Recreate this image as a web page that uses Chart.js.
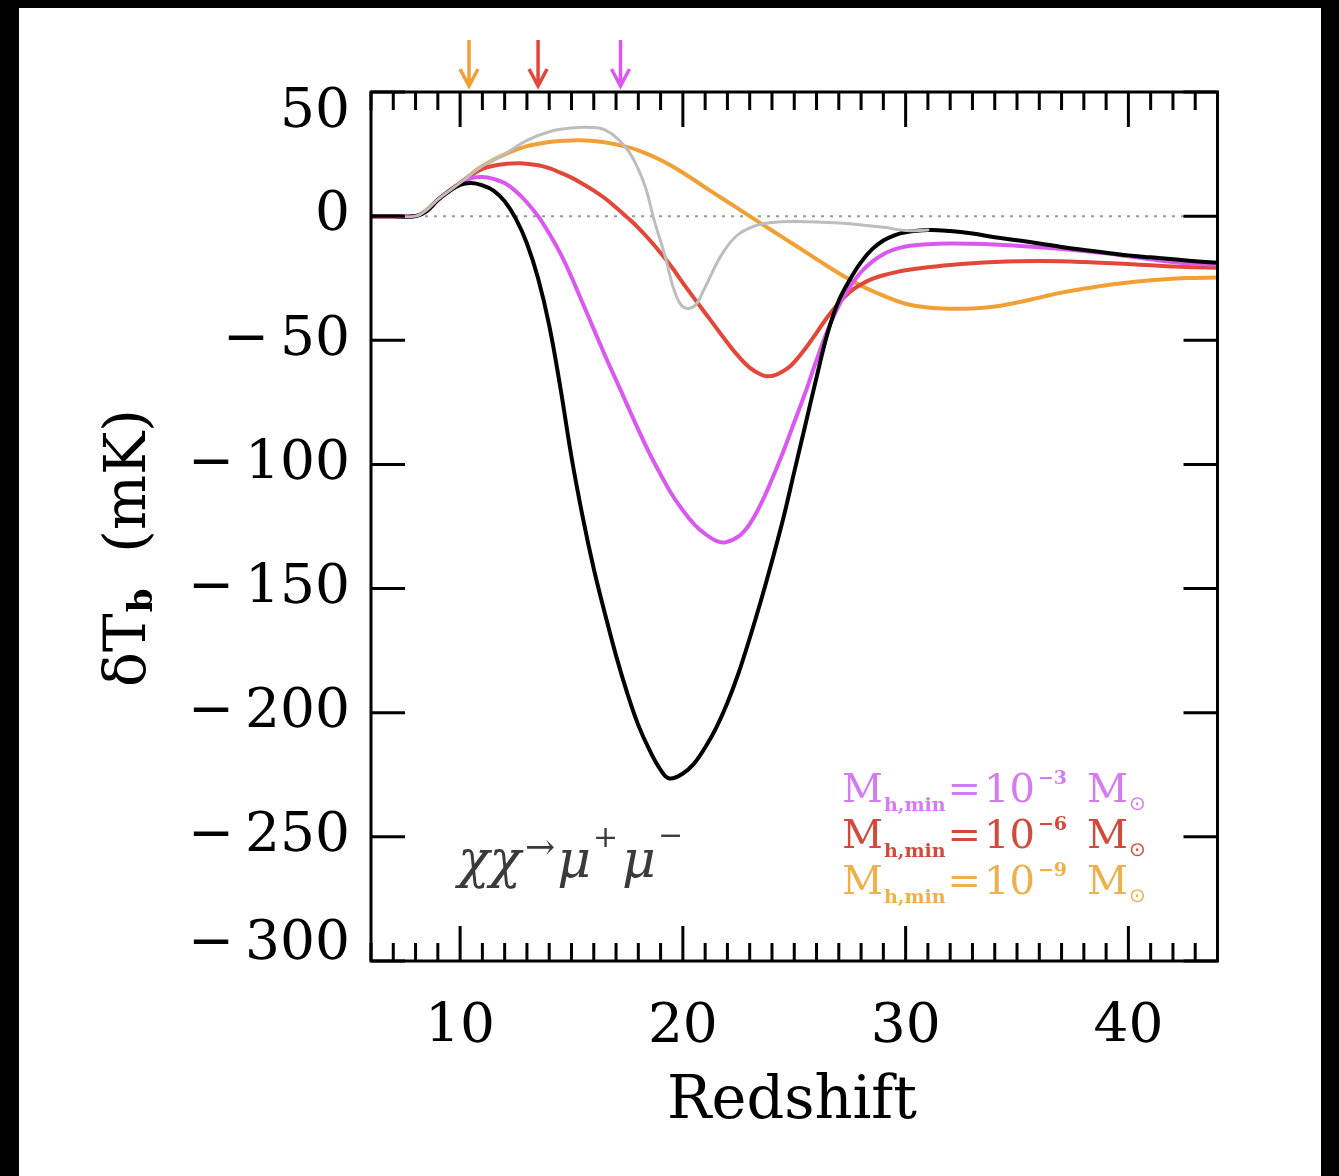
<!DOCTYPE html>
<html><head><meta charset="utf-8">
<script src="https://cdn.jsdelivr.net/npm/chart.js@4.4.0/dist/chart.umd.min.js"></script>
<style>
html,body{margin:0;padding:0;background:#000;width:1339px;height:1176px;overflow:hidden}
#wrap{position:absolute;left:19px;top:8px;width:1302px;height:1168px;background:#fff}
canvas{display:block}
</style></head><body><div id="wrap"><canvas id="c" width="1302" height="1168"></canvas></div>
<script>
// ---- data (redshift z, brightness temperature dTb in mK) ----
const zBlack = [6,7,8,8.5,9,9.5,10,10.5,11,11.5,12,12.5,13,13.5,14,14.5,15,15.5,16,16.5,17,17.5,18,18.5,19,19.4,20,20.5,21,21.5,22,22.5,23,23.5,24,24.5,25,25.5,26,26.5,27,27.5,28,28.5,29,29.5,30,31,32,33,34,35,36,37,38,39,40,41,42,43,44];
const tBlack = [0,0,0,2,6.5,10,12.6,13.3,12.4,10.3,6,-1,-11,-25,-44,-69,-97,-121,-142,-160,-177,-192,-205,-215,-223,-226.5,-224.5,-220.5,-214,-206,-196,-184,-170,-155,-139,-122,-103,-84,-65,-47,-34,-25.5,-18.5,-13.3,-9.8,-7.7,-6.5,-5.6,-6,-7,-8.5,-9.7,-11,-12.4,-13.6,-14.7,-15.8,-16.6,-17.4,-18.2,-18.8];

const zMag = [6,7,8,8.5,9,9.5,10,10.5,11,11.5,12,12.5,13,13.5,14,14.5,15,15.5,16,16.5,17,17.5,18,18.5,19,19.5,20,20.5,21,21.5,21.9,22.5,23,23.5,24,24.5,25,25.5,26,26.5,27,27.5,28,28.5,29,29.5,30,31,32,33,34,35,36,37,38,39,40,41,42,43,44];
const tMag = [0,0,0,2,6.5,10,13,15.3,15.8,15,13.3,10,5.5,0,-7,-15,-24.5,-35,-45.5,-56,-66,-76,-86,-95.5,-104,-112,-118.5,-124,-128,-130.8,-131.4,-129,-124,-116,-106,-95,-83,-71,-58,-46,-36,-28.5,-22.5,-18.3,-15.3,-13.4,-12.2,-11.3,-11,-11.1,-11.4,-11.9,-12.5,-13.2,-14,-15,-16.2,-17.4,-18.5,-19.2,-19.6];

const zRed = [6,7,8,8.5,9,9.5,10,10.5,11,11.5,12,12.7,13.5,14,14.5,15,15.5,16,16.5,17,17.5,18,18.5,19,19.5,20,20.5,21,21.5,22,22.5,23,23.5,23.8,24.2,24.7,25,25.5,26,26.5,27,27.5,28,28.5,29,29.5,30,31,32,33,34,35,36,37,38,39,40,41,42,43,44];
const tRed = [0,0,0,2,6.6,10.2,13.3,16.5,19,20.3,21,21.3,20.5,19.3,17.5,15.5,13,10.3,7.2,3.5,-0.5,-4.7,-9.5,-14.8,-20.5,-26.9,-33,-39,-45,-51,-56.5,-61,-63.8,-64.5,-63.8,-61.3,-58.8,-53.3,-47,-40.5,-35,-30.5,-27.5,-25.3,-23.8,-22.7,-21.8,-20.6,-19.7,-19,-18.5,-18.2,-18.1,-18.2,-18.5,-18.9,-19.3,-19.8,-20.3,-20.6,-20.8];

const zOrange = [6,7,8,8.5,9,10,11,12,13,14,15,16,17,18,19,20,21,22,23,24,25,26,27,28,29,30,31,32,33,34,35,36,37,38,39,40,41,42,43,44];
const tOrange = [0,0,0,2.5,6.7,13.4,20.2,24.9,28.2,29.9,30.5,30.3,28.9,26.5,22.6,17.5,11.6,5.8,0,-5.8,-11.5,-17.3,-23,-28,-32,-35.3,-36.8,-37.3,-37.2,-36.4,-34.8,-32.8,-30.8,-29.2,-27.8,-26.7,-25.8,-25.2,-24.9,-24.7];

const zGray = [6,7,8,8.5,9,10,11,12,13,14,15,15.9,16.5,17.1,17.7,18.3,18.7,19.2,19.6,20,20.5,20.95,21.7,22.4,23.2,23.9,25,27,29,30,31];
const tGray = [0,0,0,2.5,6.7,13.4,20.2,25,30.5,34,35.5,35.7,34.7,30.9,24.2,12.1,-1.3,-16.1,-29.5,-36.5,-36.3,-29.5,-16.1,-8,-4,-2.7,-2.2,-2.8,-4.5,-5.8,-5.6];

const xTicksMajor = [10,20,30,40];
const yTicksMajor = [50,0,-50,-100,-150,-200,-250,-300];
const arrowZ = [10.4,13.5,17.2];
const legendExps = ['\u22123','\u22126','\u22129'];

const C_BLACK='#000000', C_MAG='#DA58F0', C_RED='#E2473A', C_ORANGE='#F0A035', C_GRAY='#BDBDBD';
const arrowColors=[C_ORANGE,C_RED,C_MAG];
const legendColors=['#D47BF0','#D24A3A','#EDB04A'];

const SERIF='"DejaVu Serif", "Liberation Serif", serif';

function ds(z,t,color,w){
  return {data:z.map((v,i)=>({x:v,y:t[i]})),borderColor:color,borderWidth:w,pointRadius:0,
    tension:0.4,fill:false,borderCapStyle:'round',borderJoinStyle:'round'};
}

const decor = {
  id:'decor',
  beforeDatasetsDraw(chart){
    const {ctx, chartArea:a, scales:{y}} = chart;
    ctx.save();
    ctx.strokeStyle='#999'; ctx.lineWidth=2; ctx.setLineDash([3,6]);
    const y0=y.getPixelForValue(0);
    ctx.beginPath(); ctx.moveTo(a.left,y0); ctx.lineTo(a.right,y0); ctx.stroke();
    ctx.restore();
  },
  afterDatasetsDraw(chart){
    const {ctx, chartArea:a, scales:{x,y}} = chart;
    ctx.save();
    ctx.strokeStyle='#000'; ctx.lineWidth=3; ctx.setLineDash([]);
    ctx.strokeRect(a.left,a.top,a.right-a.left,a.bottom-a.top);
    ctx.beginPath();
    for(let v=Math.ceil(x.min); v<=x.max; v++){
      const px=x.getPixelForValue(v);
      const L = xTicksMajor.includes(v)?35:18;
      ctx.moveTo(px,a.bottom); ctx.lineTo(px,a.bottom-L);
      ctx.moveTo(px,a.top); ctx.lineTo(px,a.top+L);
    }
    yTicksMajor.forEach(v=>{
      const py=y.getPixelForValue(v);
      ctx.moveTo(a.left,py); ctx.lineTo(a.left+34,py);
      ctx.moveTo(a.right,py); ctx.lineTo(a.right-34,py);
    });
    ctx.stroke();

    // tick labels
    ctx.fillStyle='#000';
    ctx.font='55px '+SERIF; ctx.textAlign='center'; ctx.textBaseline='middle';
    xTicksMajor.forEach(v=>ctx.fillText(String(v), x.getPixelForValue(v), 1020));
    ctx.textAlign='right';
    yTicksMajor.forEach(v=>{
      let py=y.getPixelForValue(v);
      py=Math.min(Math.max(py,a.top+21),a.bottom-16);
      const s = v<0 ? '\u2212\u2009'+Math.abs(v) : String(v);
      ctx.fillText(s, 331, py);
    });

    // x title
    ctx.textAlign='center';
    ctx.font='59px '+SERIF;
    ctx.fillText('Redshift', 773, 1095);

    // y title rotated
    ctx.save();
    ctx.translate(111, 540); ctx.rotate(-Math.PI/2);
    ctx.textAlign='left'; ctx.textBaseline='middle';
    const f1='58px '+SERIF, f2='bold 34px '+SERIF;
    ctx.font=f1; const w1=ctx.measureText('\u03b4T').width;
    ctx.font=f2; const w2=ctx.measureText('b').width;
    ctx.font=f1; const w3=ctx.measureText('  (mK)').width;
    let sx=-(w1+w2+w3)/2;
    ctx.font=f1; ctx.fillText('\u03b4T',sx,0); sx+=w1;
    ctx.font=f2; ctx.fillText('b',sx+1,13); sx+=w2;
    ctx.font=f1; ctx.fillText('  (mK)',sx,0);
    ctx.restore();

    // arrows
    ctx.lineWidth=3.5; ctx.lineCap='butt'; ctx.lineJoin='miter';
    arrowZ.forEach((z,i)=>{
      const px=x.getPixelForValue(z);
      ctx.strokeStyle=arrowColors[i];
      ctx.beginPath();
      ctx.moveTo(px,32); ctx.lineTo(px,78);
      ctx.moveTo(px-9,61); ctx.lineTo(px,78); ctx.lineTo(px+9,61);
      ctx.stroke();
    });

    // legend text
    ctx.textAlign='left'; ctx.textBaseline='alphabetic';
    const baselines=[794,840,886];
    legendExps.forEach((e,i)=>{
      ctx.fillStyle=legendColors[i];
      let cx=823; const by=baselines[i];
      ctx.font='40px '+SERIF; ctx.fillText('M',cx,by); cx+=ctx.measureText('M').width+1;
      ctx.font='bold 19px '+SERIF; ctx.fillText('h,min',cx,by+9); cx+=ctx.measureText('h,min').width+2;
      ctx.font='40px '+SERIF; ctx.fillText('=',cx,by); cx+=ctx.measureText('=').width+3;
      ctx.fillText('10',cx,by); cx+=ctx.measureText('10').width+3;
      ctx.font='bold 19px '+SERIF; ctx.fillText(e,cx,by-18); cx+=ctx.measureText(e).width+20;
      ctx.font='40px '+SERIF; ctx.fillText('M',cx,by); cx+=ctx.measureText('M').width+1;
      ctx.font='20px "DejaVu Sans", sans-serif'; ctx.fillText('\u2299',cx,by+8);
    });

    // process annotation
    ctx.fillStyle='#3a3a3a';
    let ax=439; const ab=869;
    ctx.font='italic 52px '+SERIF; ctx.fillText('\u03c7\u03c7',ax,ab); ax+=ctx.measureText('\u03c7\u03c7').width+4;
    ctx.font='36px '+SERIF; ctx.fillText('\u2192',ax,ab-18); ax+=ctx.measureText('\u2192').width+2;
    ctx.font='italic 52px '+SERIF; ctx.fillText('\u03bc',ax,ab); ax+=ctx.measureText('\u03bc').width+2;
    ctx.font='30px '+SERIF; ctx.fillText('+',ax,ab-30); ax+=ctx.measureText('+').width+4;
    ctx.font='italic 52px '+SERIF; ctx.fillText('\u03bc',ax,ab); ax+=ctx.measureText('\u03bc').width+2;
    ctx.font='30px '+SERIF; ctx.fillText('\u2212',ax,ab-32);
    ctx.restore();
  }
};

new Chart(document.getElementById('c').getContext('2d'),{
  type:'line',
  data:{datasets:[
    ds(zGray,tGray,C_GRAY,3),
    ds(zBlack,tBlack,C_BLACK,4),
    ds(zMag,tMag,C_MAG,4),
    ds(zRed,tRed,C_RED,4),
    ds(zOrange,tOrange,C_ORANGE,4)
  ]},
  options:{
    responsive:false, animation:false, devicePixelRatio:1,
    layout:{padding:{left:352,right:103.5,top:84,bottom:215}},
    plugins:{legend:{display:false},tooltip:{enabled:false}},
    scales:{
      x:{type:'linear',min:6,max:44,display:false},
      y:{type:'linear',min:-300,max:50,display:false}
    }
  },
  plugins:[decor]
});
</script></body></html>
